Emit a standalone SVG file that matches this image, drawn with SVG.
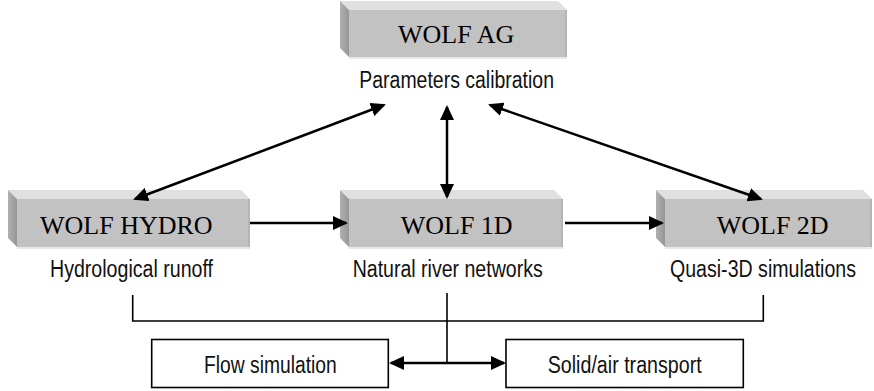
<svg xmlns="http://www.w3.org/2000/svg" width="874" height="391" viewBox="0 0 874 391">
<style>
.front{fill:#C2C2C2}
.top{fill:#E0E0E0}
.left{fill:url(#lg)}
.bot{fill:#E8E8E8}
.rgt{fill:#B4B4B4}
.serif{font-family:"Liberation Serif","Times New Roman",serif;font-size:26px;fill:#000}
.sans{font-family:"Liberation Sans",Arial,sans-serif;font-size:23px;fill:#111}
.arr{stroke:#000;stroke-width:2.5;fill:none;marker-end:url(#ah)}
.arr2{stroke:#000;stroke-width:2.5;fill:none;marker-end:url(#ah);marker-start:url(#ah)}
.ln{stroke:#000;stroke-width:1.6;fill:none}
.box{fill:#fff;stroke:#000;stroke-width:1.6}
</style>
<defs>
<linearGradient id="lg" x1="0" y1="0" x2="1" y2="0">
<stop offset="0" stop-color="#B0B0B0"/>
<stop offset="1" stop-color="#969696"/>
</linearGradient>
<marker id="ah" viewBox="0 0 15 14" refX="13" refY="7" markerWidth="15" markerHeight="14" markerUnits="userSpaceOnUse" orient="auto-start-reverse">
<path d="M0,0 L15,7 L0,14 z" fill="#000"/>
</marker>
</defs>
<rect width="874" height="391" fill="#fff"/>

<g id="wolf-ag">
<polygon class="top" points="340,1 558,1 567,10 349,10"/>
<polygon class="left" points="340,1 349,10 349,57 340,48"/>
<rect class="front" x="349" y="10" width="218" height="47"/>
<rect class="rgt" x="565" y="10" width="2" height="47"/>
<rect class="bot" x="349" y="57" width="218" height="2"/>
<text class="serif" x="398" y="43">WOLF AG</text>
<text class="sans" x="359.3" y="88" textLength="194.7" lengthAdjust="spacingAndGlyphs">Parameters calibration</text>
</g>

<g id="wolf-hydro">
<polygon class="top" points="8,190 241,190 250,199 17,199"/>
<polygon class="left" points="8,190 17,199 17,247 8,238"/>
<rect class="front" x="17" y="199" width="233" height="48"/>
<rect class="rgt" x="248" y="199" width="2" height="48"/>
<rect class="bot" x="17" y="247" width="233" height="2"/>
<text class="serif" x="40" y="234">WOLF HYDRO</text>
<text class="sans" x="50" y="277" textLength="163" lengthAdjust="spacingAndGlyphs">Hydrological runoff</text>
</g>

<g id="wolf-1d">
<polygon class="top" points="340,190 554,190 563,199 349,199"/>
<polygon class="left" points="340,190 349,199 349,247 340,238"/>
<rect class="front" x="349" y="199" width="214" height="48"/>
<rect class="rgt" x="561" y="199" width="2" height="48"/>
<rect class="bot" x="349" y="247" width="214" height="2"/>
<text class="serif" x="400.7" y="233.5">WOLF 1D</text>
<text class="sans" x="352.7" y="277" textLength="190" lengthAdjust="spacingAndGlyphs">Natural river networks</text>
</g>

<g id="wolf-2d">
<polygon class="top" points="656,190 863,190 872,199 665,199"/>
<polygon class="left" points="656,190 665,199 665,247 656,238"/>
<rect class="front" x="665" y="199" width="207" height="48"/>
<rect class="rgt" x="870" y="199" width="2" height="48"/>
<rect class="bot" x="665" y="247" width="207" height="2"/>
<text class="serif" x="716.7" y="233.5">WOLF 2D</text>
<text class="sans" x="670" y="277" textLength="186" lengthAdjust="spacingAndGlyphs">Quasi-3D simulations</text>
</g>

<g id="flow-simulation">
<rect class="box" x="151.7" y="339.5" width="236.6" height="48"/>
<text class="sans" x="204" y="373" textLength="132.7" lengthAdjust="spacingAndGlyphs">Flow simulation</text>
</g>

<g id="solid-air-transport">
<rect class="box" x="506" y="339.5" width="237.3" height="48"/>
<text class="sans" x="547.7" y="373" textLength="154" lengthAdjust="spacingAndGlyphs">Solid/air transport</text>
</g>

<g id="connectors">
<line class="arr" x1="250" y1="223" x2="346" y2="223"/>
<line class="arr" x1="565" y1="223" x2="662" y2="223"/>
<line class="arr2" x1="447" y1="107" x2="447" y2="197"/>
<line class="arr2" x1="384" y1="105" x2="135" y2="199"/>
<line class="arr2" x1="490" y1="105" x2="761" y2="199"/>
<polyline class="ln" points="132.7,295 132.7,321 763.3,321 763.3,295"/>
<line class="ln" x1="447" y1="293" x2="447" y2="363"/>
<line class="arr" x1="447" y1="363" x2="391" y2="363"/>
<line class="arr" x1="447" y1="363" x2="504" y2="363"/>
</g>
</svg>
